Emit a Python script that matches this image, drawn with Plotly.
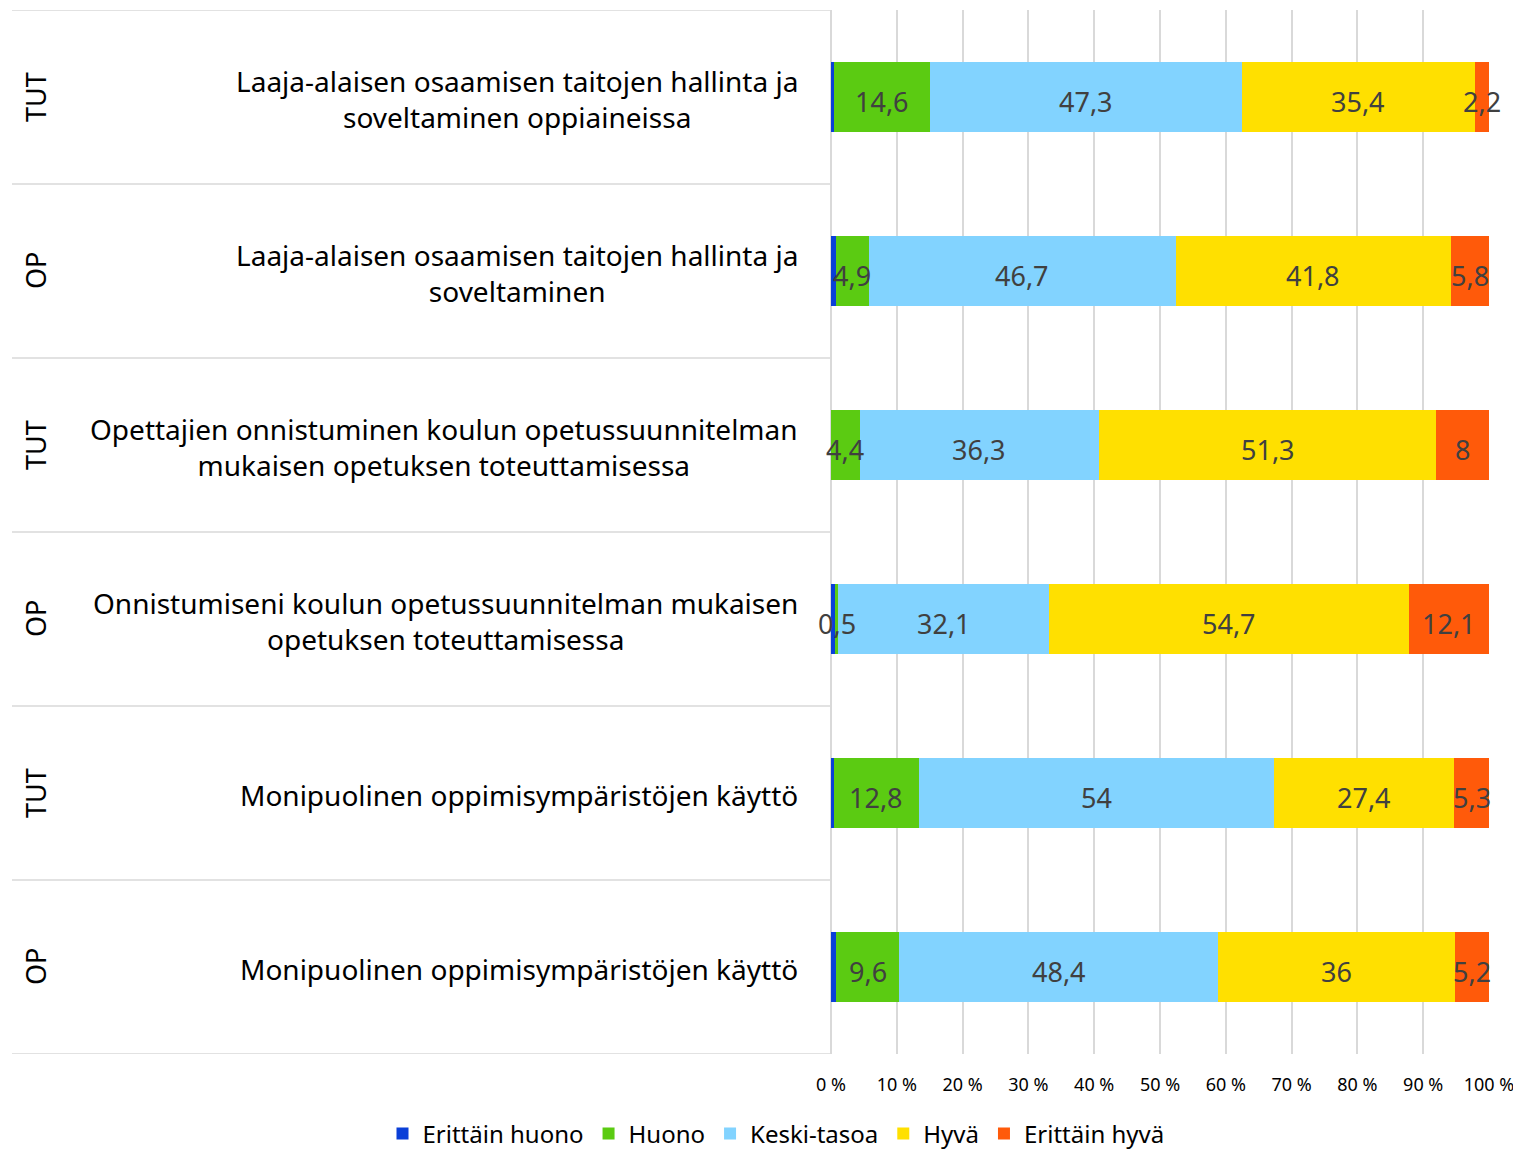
import plotly.graph_objects as go

groups = ["TUT", "OP", "TUT", "OP", "TUT", "OP"]
questions = [
    "Laaja-alaisen osaamisen taitojen hallinta ja<br>soveltaminen oppiaineissa",
    "Laaja-alaisen osaamisen taitojen hallinta ja<br>soveltaminen",
    "Opettajien onnistuminen koulun opetussuunnitelman<br>mukaisen opetuksen toteuttamisessa",
    "Onnistumiseni koulun opetussuunnitelman mukaisen<br>opetuksen toteuttamisessa",
    "Monipuolinen oppimisympäristöjen käyttö",
    "Monipuolinen oppimisympäristöjen käyttö",
]
series = ["Erittäin huono", "Huono", "Keski-tasoa", "Hyvä", "Erittäin hyvä"]
erittain_huono = [0.5, 0.8, 0, 0.6, 0.5, 0.8]
huono = [14.6, 4.9, 4.4, 0.5, 12.8, 9.6]
keski = [47.3, 46.7, 36.3, 32.1, 54, 48.4]
hyva = [35.4, 41.8, 51.3, 54.7, 27.4, 36]
erittain_hyva = [2.2, 5.8, 8, 12.1, 5.3, 5.2]
ticks = [0, 10, 20, 30, 40, 50, 60, 70, 80, 90, 100]

values = [erittain_huono, huono, keski, hyva, erittain_hyva]
colors = ["#0a3fd8", "#5bcb12", "#82d3ff", "#ffe000", "#ff5a0a"]
show_labels = [False, True, True, True, True]

# page body adds an 8px margin, so the figure is a bit smaller
OFF = 8
W, H = 1521 - OFF, 1150 - OFF
x0, x1 = (831 - OFF) / W, (1489 - OFF) / W
rows = list(range(len(groups)))
font = "Noto Sans"

fig = go.Figure()
ann = []
left = [0] * len(rows)
for name, vals, col, lab in zip(series, values, colors, show_labels):
    fig.add_trace(go.Bar(
        y=rows, x=vals, base=left, orientation="h", name=name,
        marker=dict(color=col, line=dict(width=0)), width=0.4,
    ))
    if lab:
        for r, l, v in zip(rows, left, vals):
            if v == 0:
                continue
            ann.append(dict(x=l + v / 2, y=r, xref="x", yref="y", showarrow=False,
                            text=f"{v:g}".replace(".", ","), yshift=-4,
                            font=dict(size=27, color="#404040", family=font)))
    left = [l + v for l, v in zip(left, vals)]

shapes = []
for b in [r - 0.5 for r in rows] + [rows[-1] + 0.5]:
    shapes.append(dict(type="line", xref="paper", yref="y", x0=(12 - OFF) / W, x1=x0,
                       y0=b, y1=b, line=dict(color="#d9d9d9", width=1.5)))

for r, g, q in zip(rows, groups, questions):
    ann.append(dict(xref="paper", yref="y", x=(35 - OFF) / W, y=r, text=g, showarrow=False,
                    textangle=-90, xanchor="center",
                    font=dict(size=27, color="#000", family=font)))
    ann.append(dict(xref="paper", yref="y", x=(800 - OFF) / W, y=r, text=q, showarrow=False,
                    xanchor="right", align="center", yshift=-2,
                    font=dict(size=28, color="#000", family=font)))

fig.update_layout(
    width=W, height=H, plot_bgcolor="white", paper_bgcolor="white",
    margin=dict(l=0, r=0, t=10 - OFF, b=1150 - 1054, autoexpand=False),
    barmode="overlay", bargap=0,
    shapes=shapes, annotations=ann,
    xaxis=dict(domain=[x0, x1], range=[0, 100], tickvals=ticks,
               ticktext=[f"{t} %" for t in ticks], showgrid=True,
               gridcolor="#d9d9d9", gridwidth=1.5, zeroline=True,
               zerolinecolor="#d9d9d9", zerolinewidth=1.5,
               ticks="", ticklabelstandoff=18, automargin=False,
               tickfont=dict(size=18, color="#000", family=font), fixedrange=True),
    yaxis=dict(range=[5.5, -0.5], showticklabels=False, showgrid=False,
               zeroline=False, fixedrange=True, automargin=False),
    legend=dict(orientation="h", x=(776 - OFF) / W, xanchor="center", y=-0.055,
                yanchor="top", font=dict(size=24, color="#000", family=font),
                traceorder="normal", itemwidth=30),
    showlegend=True,
)

fig.write_html("out.html")
